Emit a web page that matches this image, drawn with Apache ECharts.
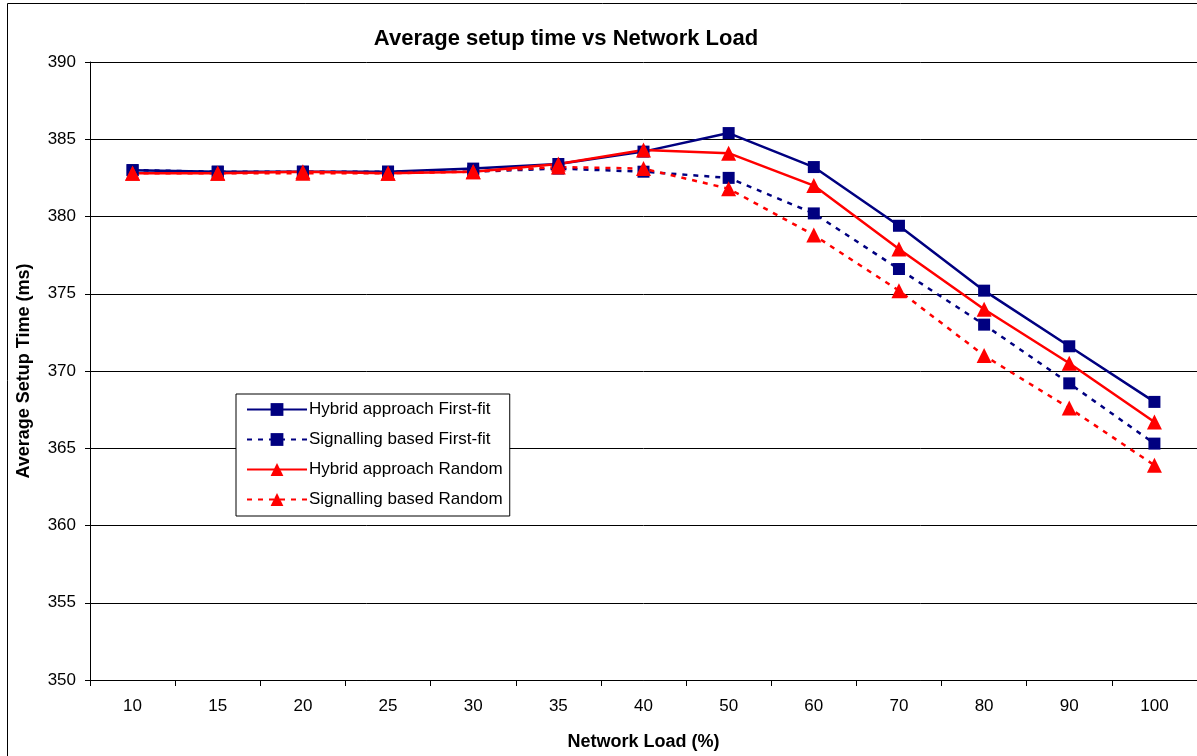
<!DOCTYPE html>
<html>
<head>
<meta charset="utf-8">
<script src="https://cdn.jsdelivr.net/npm/echarts@6/dist/echarts.min.js"></script>
<style>
  html, body { margin: 0; padding: 0; background: #fff; }
  #chart { width: 1197px; height: 756px; }
</style>
</head>
<body>
<div id="chart"></div>
<script>
// Network load categories (%)
const loads = ['10', '15', '20', '25', '30', '35', '40', '50', '60', '70', '80', '90', '100'];

// Average setup time (ms) per approach
const hybridFirstFit     = [383.0, 382.9, 382.9, 382.9, 383.1, 383.4, 384.2, 385.4, 383.2, 379.4, 375.2, 371.6, 368.0];
const signallingFirstFit = [383.0, 382.9, 382.9, 382.9, 382.9, 383.1, 382.9, 382.5, 380.2, 376.6, 373.0, 369.2, 365.3];
const hybridRandom       = [382.8, 382.8, 382.9, 382.8, 382.9, 383.4, 384.3, 384.1, 382.0, 377.9, 374.0, 370.5, 366.7];
const signallingRandom   = [382.8, 382.8, 382.8, 382.8, 382.9, 383.2, 383.1, 381.8, 378.8, 375.2, 371.0, 367.6, 363.9];

const seriesNames = [
  'Hybrid approach First-fit',
  'Signalling based First-fit',
  'Hybrid approach Random',
  'Signalling based Random'
];

const FONT = 'Liberation Sans, Arial, sans-serif';
const NAVY = '#000080';
const RED = '#FF0000';
const DASH = [5, 6];

function makeSeries(name, data, color, symbol, size, dashed) {
  return {
    name: name,
    type: 'line',
    data: data,
    symbol: symbol,
    symbolSize: size,
    itemStyle: { color: color },
    lineStyle: { color: color, width: 2.5, type: dashed ? DASH : 'solid' },
    emphasis: { disabled: true },
    animation: false
  };
}

const chart = echarts.init(document.getElementById('chart'), null, { renderer: 'canvas' });

chart.setOption({
  backgroundColor: '#fff',
  animation: false,
  title: {
    text: 'Average setup time vs Network Load',
    left: 561,
    textAlign: 'center',
    top: 23,
    textStyle: { fontFamily: FONT, fontSize: 22, fontWeight: 'bold', color: '#000' }
  },
  graphic: [{
    type: 'rect',
    shape: { x: 7.5, y: 3.5, width: 1300, height: 900 },
    style: { fill: 'none', stroke: '#000', lineWidth: 1 },
    silent: true,
    z: -1
  }],
  legend: {
    orient: 'vertical',
    left: 236,
    top: 394,
    data: seriesNames,
    itemWidth: 60,
    itemHeight: 16,
    itemGap: 13,
    padding: [7, 7, 8, 10],
    borderColor: '#000',
    borderWidth: 1,
    backgroundColor: '#fff',
    textStyle: { fontFamily: FONT, fontSize: 17, color: '#000', padding: [0, 0, 0, -3] },
    selectedMode: false
  },
  grid: { left: 90, top: 62, width: 1110, height: 618, containLabel: false },
  xAxis: {
    type: 'category',
    data: loads,
    boundaryGap: true,
    name: 'Network Load (%)',
    nameLocation: 'middle',
    nameGap: 53,
    nameTextStyle: { fontFamily: FONT, fontSize: 18, fontWeight: 'bold', color: '#000' },
    axisLine: { lineStyle: { color: '#000', width: 1 } },
    axisTick: { show: true, length: 6, alignWithLabel: false, lineStyle: { color: '#000' } },
    axisLabel: { fontFamily: FONT, fontSize: 17, color: '#000', margin: 18 },
    splitLine: { show: false }
  },
  yAxis: {
    type: 'value',
    min: 350,
    max: 390,
    interval: 5,
    name: 'Average Setup Time (ms)',
    nameLocation: 'middle',
    nameGap: 57,
    nameRotate: 90,
    nameTextStyle: { fontFamily: FONT, fontSize: 18, fontWeight: 'bold', color: '#000' },
    axisLine: { show: true, lineStyle: { color: '#000', width: 1 } },
    axisTick: { show: true, length: 5, lineStyle: { color: '#000' } },
    axisLabel: { fontFamily: FONT, fontSize: 17, color: '#000', margin: 14 },
    splitLine: { show: true, lineStyle: { color: '#000', width: 1 } }
  },
  series: [
    makeSeries(seriesNames[0], hybridFirstFit, NAVY, 'rect', 12, false),
    makeSeries(seriesNames[1], signallingFirstFit, NAVY, 'rect', 12, true),
    makeSeries(seriesNames[2], hybridRandom, RED, 'triangle', 15, false),
    makeSeries(seriesNames[3], signallingRandom, RED, 'triangle', 15, true)
  ]
});
</script>
</body>
</html>
